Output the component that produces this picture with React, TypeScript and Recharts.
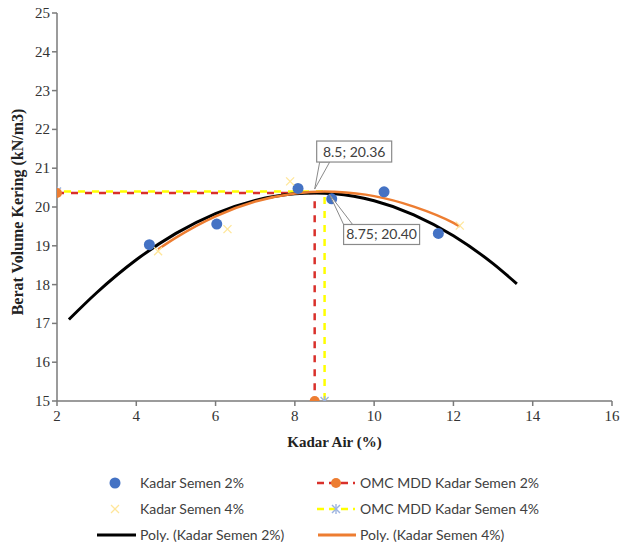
import React from 'react';
import { ComposedChart, Scatter, Line, XAxis, YAxis, ReferenceDot } from 'recharts';

// ---- data ----
const semen2Water = [4.33, 6.03, 8.08, 8.93, 10.25, 11.62];
const semen2Density = [19.03, 19.56, 20.48, 20.21, 20.39, 19.32];

const semen4Water = [4.55, 6.3, 7.88, 12.16];
const semen4Density = [18.86, 19.43, 20.66, 19.52];

const poly2Water = [2.3, 3, 4, 5, 6, 7, 8, 8.5, 9, 10, 11, 12, 13, 13.6];
const poly2Density = [17.1, 17.79, 18.64, 19.32, 19.83, 20.17, 20.34, 20.36, 20.34, 20.16, 19.8, 19.26, 18.54, 18.02];

const poly4Water = [4.55, 5, 6, 7, 8, 8.75, 9, 10, 11, 12, 12.16];
const poly4Density = [18.91, 19.21, 19.76, 20.14, 20.35, 20.4, 20.39, 20.28, 20.01, 19.59, 19.5];

const omc2 = 8.5;
const mdd2 = 20.36;
const omc4 = 8.75;
const mdd4 = 20.4;

const xTicks = [2, 4, 6, 8, 10, 12, 14, 16];
const yTicks = [15, 16, 17, 18, 19, 20, 21, 22, 23, 24, 25];

const seriesNames = [
  'Kadar Semen 2%',
  'Kadar Semen 4%',
  'Poly. (Kadar Semen 2%)',
  'OMC MDD Kadar Semen 2%',
  'OMC MDD Kadar Semen 4%',
  'Poly. (Kadar Semen 4%)',
];

const zip = (xs: number[], ys: number[]) => xs.map((x, i) => ({ x, y: ys[i] }));

const semen2Data = zip(semen2Water, semen2Density);
const semen4Data = zip(semen4Water, semen4Density);
const poly2Data = zip(poly2Water, poly2Density);
const poly4Data = zip(poly4Water, poly4Density);
const omc2Data = zip([xTicks[0], omc2, omc2], [mdd2, mdd2, yTicks[0]]);
const omc4Data = zip([xTicks[0], omc4, omc4], [mdd4, mdd4, yTicks[0]]);

const BLUE = '#4472C4';
const ORANGE = '#ED7D31';
const PALE_YELLOW = '#FFE699';
const RED = '#D9302B';
const YELLOW = '#FFFF00';
const STAR = '#9DB4E0';
const AXIS = '#7a7a7a';
const SERIF = 'Liberation Serif, Times New Roman, serif';
const SANS = 'Lato, Open Sans, sans-serif';

const BlueDot = (p: any) => <circle cx={p.cx} cy={p.cy} r={5.5} fill={BLUE} />;
const XMark = (p: any) => {
  const s = 4;
  return (
    <g stroke={PALE_YELLOW} strokeWidth={1.3}>
      <line x1={p.cx - s} y1={p.cy - s} x2={p.cx + s} y2={p.cy + s} />
      <line x1={p.cx - s} y1={p.cy + s} x2={p.cx + s} y2={p.cy - s} />
    </g>
  );
};
const OrangeDot = (p: any) =>
  p.index === 1 ? <g key={p.index} /> : <circle key={p.index} cx={p.cx} cy={p.cy} r={5} fill={ORANGE} />;
const StarDot = (p: any) => {
  const s = 4;
  if (p.index === 1) return <g key={p.index} />;
  return (
    <g key={p.index} stroke={STAR} strokeWidth={1.4}>
      <line x1={p.cx - s} y1={p.cy - s} x2={p.cx + s} y2={p.cy + s} />
      <line x1={p.cx - s} y1={p.cy + s} x2={p.cx + s} y2={p.cy - s} />
      <line x1={p.cx} y1={p.cy - s - 1} x2={p.cx} y2={p.cy + s + 1} />
    </g>
  );
};

const Callout1 = (p: any) => {
  const { cx, cy } = p;
  const bx = cx + 2;
  const by = cy - 52;
  return (
    <g>
      <polygon points={`${cx + 5},${by + 21} ${cx + 15},${by + 21} ${cx},${cy - 4}`} fill="#fff" stroke="#8a8a8a" strokeWidth={1} />
      <rect x={bx} y={by} width={75} height={21} fill="#fff" stroke="#8a8a8a" strokeWidth={1.2} />
      <text x={bx + 37.5} y={by + 15.5} textAnchor="middle" fontFamily={SANS} fontSize={14} fill="#404040">
        {`${omc2}; ${mdd2.toFixed(2)}`}
      </text>
    </g>
  );
};
const Callout2 = (p: any) => {
  const { cx, cy } = p;
  const bx = cx + 19;
  const by = cy + 33;
  return (
    <g>
      <polygon points={`${bx},${by} ${bx + 9},${by} ${cx + 5},${cy + 3}`} fill="#fff" stroke="#8a8a8a" strokeWidth={1} />
      <rect x={bx} y={by} width={76} height={20} fill="#fff" stroke="#8a8a8a" strokeWidth={1.2} />
      <text x={bx + 38} y={by + 15} textAnchor="middle" fontFamily={SANS} fontSize={14} fill="#404040">
        {`${omc4}; ${mdd4.toFixed(2)}`}
      </text>
    </g>
  );
};

const XTick = (p: any) => (
  <text x={p.x} y={p.y + 13} textAnchor="middle" fontFamily={SERIF} fontSize={15} fill="#333">
    {p.payload.value}
  </text>
);
const YTick = (p: any) => (
  <text x={p.x} y={p.y + 5} textAnchor="end" fontFamily={SERIF} fontSize={15} fill="#333">
    {p.payload.value}
  </text>
);

const XTitle = (props: any) => {
  const vb = props.viewBox;
  return (
    <text x={vb.x + vb.width / 2} y={vb.y + 46} textAnchor="middle" fontFamily={SERIF} fontWeight="bold" fontSize={15} fill="#222">
      Kadar Air (%)
    </text>
  );
};
const YTitle = (props: any) => {
  const vb = props.viewBox;
  const x = 23;
  const y = vb.y + vb.height / 2 + 5;
  return (
    <text x={x} y={y} transform={`rotate(-90, ${x}, ${y})`} textAnchor="middle" fontFamily={SERIF} fontWeight="bold" fontSize={16} fill="#222">
      Berat Volume Kering (kN/m3)
    </text>
  );
};

const LegendOverlay = () => {
  const rows = [483, 509, 535];
  const c1m = 115;
  const c1t = 140;
  const c2m = 336;
  const c2t = 360;
  const txt = (x: number, y: number, s: string) => (
    <text x={x} y={y + 5} fontFamily={SANS} fontSize={14} fill="#404040">{s}</text>
  );
  return (
    <svg width={621} height={80} style={{ position: 'absolute', left: 0, top: 466 }} viewBox="0 466 621 80">
      <circle cx={c1m} cy={rows[0]} r={5.5} fill={BLUE} />
      {txt(c1t, rows[0], seriesNames[0])}
      <g stroke={PALE_YELLOW} strokeWidth={1.3}>
        <line x1={c1m - 4} y1={rows[1] - 4} x2={c1m + 4} y2={rows[1] + 4} />
        <line x1={c1m - 4} y1={rows[1] + 4} x2={c1m + 4} y2={rows[1] - 4} />
      </g>
      {txt(c1t, rows[1], seriesNames[1])}
      <line x1={97} y1={rows[2]} x2={136} y2={rows[2]} stroke="#000" strokeWidth={3} />
      {txt(c1t, rows[2], seriesNames[2])}

      <line x1={317} y1={rows[0]} x2={355} y2={rows[0]} stroke={RED} strokeWidth={2.5} strokeDasharray="7 5" />
      <circle cx={c2m} cy={rows[0]} r={5} fill={ORANGE} />
      {txt(c2t, rows[0], seriesNames[3])}
      <line x1={317} y1={rows[1]} x2={355} y2={rows[1]} stroke={YELLOW} strokeWidth={2.5} strokeDasharray="7 5" />
      <g stroke={STAR} strokeWidth={1.4}>
        <line x1={c2m - 4} y1={rows[1] - 4} x2={c2m + 4} y2={rows[1] + 4} />
        <line x1={c2m - 4} y1={rows[1] + 4} x2={c2m + 4} y2={rows[1] - 4} />
        <line x1={c2m} y1={rows[1] - 5} x2={c2m} y2={rows[1] + 5} />
      </g>
      {txt(c2t, rows[1], seriesNames[4])}
      <line x1={318} y1={rows[2]} x2={356} y2={rows[2]} stroke={ORANGE} strokeWidth={3} />
      {txt(c2t, rows[2], seriesNames[5])}
    </svg>
  );
};

export default function App() {
  return (
    <div style={{ position: 'absolute', left: 0, top: 0, width: 621, height: 546, background: '#fff' }}>
      <ComposedChart width={621} height={546} margin={{ top: 13, right: 9, bottom: 0, left: 0 }}>
        <XAxis
          type="number"
          dataKey="x"
          domain={[2, 16]}
          ticks={xTicks}
          allowDataOverflow
          height={145}
          stroke={AXIS}
          strokeWidth={1.5}
          tickSize={5}
          tick={XTick}
          label={XTitle}
        />
        <YAxis
          type="number"
          dataKey="y"
          domain={[15, 25]}
          ticks={yTicks}
          allowDataOverflow
          width={57}
          stroke={AXIS}
          strokeWidth={1.5}
          tickSize={5}
          tick={YTick}
          label={YTitle}
        />
        <Scatter data={semen2Data} dataKey="y" shape={BlueDot} isAnimationActive={false} />
        <Scatter data={semen4Data} dataKey="y" shape={XMark} isAnimationActive={false} />
        <Line data={omc4Data} dataKey="y" type="linear" stroke={YELLOW} strokeWidth={2.5} strokeDasharray="7 7" strokeDashoffset={7} dot={StarDot} isAnimationActive={false} />
        <Line data={omc2Data} dataKey="y" type="linear" stroke={RED} strokeWidth={2.5} strokeDasharray="7 7" dot={OrangeDot} isAnimationActive={false} />
        <Line data={poly2Data} dataKey="y" type="monotone" stroke="#000" strokeWidth={3} dot={false} isAnimationActive={false} />
        <Line data={poly4Data} dataKey="y" type="monotone" stroke={ORANGE} strokeWidth={2.5} dot={false} isAnimationActive={false} />
        <ReferenceDot x={omc2} y={mdd2} r={0} shape={Callout1} />
        <ReferenceDot x={omc4} y={mdd4} r={0} shape={Callout2} />
      </ComposedChart>
      <LegendOverlay />
    </div>
  );
}
